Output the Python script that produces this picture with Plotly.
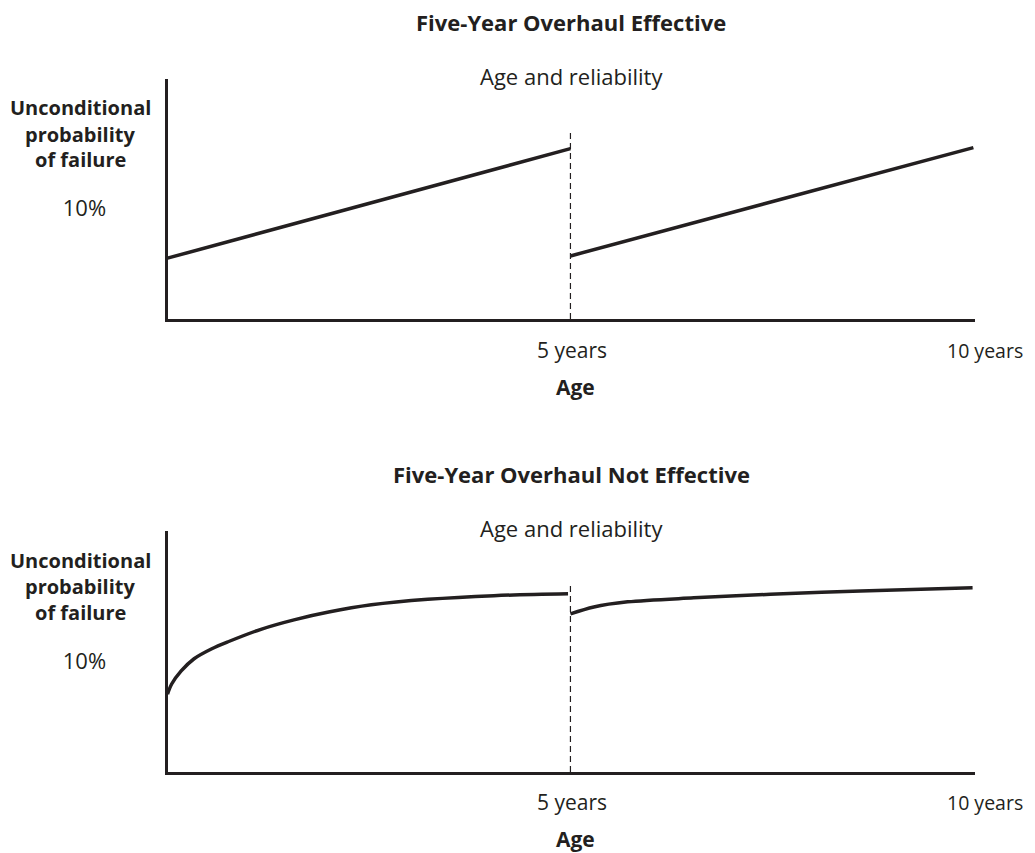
import plotly.graph_objects as go

# ---------------- data ----------------
panel_titles = ["Five-Year Overhaul Effective", "Five-Year Overhaul Not Effective"]
panel_subtitle = "Age and reliability"
y_label_lines = ["Unconditional", "probability", "of failure"]
x_tick_vals = [5, 10]
x_tick_text = ["5 years", "10 years"]
y_tick_vals = [10]
y_tick_text = ["10%"]
x_axis_title = "Age"
overhaul_age = 5
dashed_top = 16.9

# Top panel: overhaul effective (straight rising lines)
eff_x1 = [0, 5]
eff_y1 = [5.5, 15.4]
eff_x2 = [5, 10]
eff_y2 = [5.7, 15.5]

# Bottom panel: overhaul not effective (curves)
ne_x1 = [0.0, 0.05, 0.17, 0.33, 0.55, 0.76, 1.16, 1.57, 2.0, 2.53, 3.23, 4.05, 4.97]
ne_y1 = [7.0, 7.9, 9.1, 10.2, 11.1, 11.75, 12.85, 13.7, 14.4, 15.05, 15.55, 15.88, 16.04]
ne_x2 = [5.0, 5.29, 5.71, 6.53, 7.48, 8.6, 9.99]
ne_y2 = [14.23, 14.86, 15.32, 15.68, 16.0, 16.3, 16.58]

# ---------------- layout helpers ----------------
OFF = 8               # page body margin
W, H = 1035 - OFF, 853 - OFF
INK = "#231f20"
FONT = "Open Sans"

def px_x(p):
    return (p - OFF) / W

def px_y(p):
    return 1 - (p - OFF) / H

x_dom = [px_x(167.5), px_x(975)]
top_dom = [px_y(319), px_y(79)]
bot_dom = [px_y(772), px_y(531)]
x_range = [0, 10.02]
y_range = [0, 21.7]

fig = go.Figure()

line_style = dict(color=INK, width=3.5)
curve_style = dict(color=INK, width=3.5, shape="spline", smoothing=0.9)
dash_style = dict(color=INK, width=1.2, dash="6px,4px")

# top panel traces
fig.add_trace(go.Scatter(x=eff_x1, y=eff_y1, mode="lines", line=line_style, xaxis="x", yaxis="y"))
fig.add_trace(go.Scatter(x=eff_x2, y=eff_y2, mode="lines", line=line_style, xaxis="x", yaxis="y"))
fig.add_trace(go.Scatter(x=[overhaul_age, overhaul_age], y=[0, dashed_top], mode="lines",
                         line=dash_style, xaxis="x", yaxis="y"))

# bottom panel traces
fig.add_trace(go.Scatter(x=ne_x1, y=ne_y1, mode="lines", line=curve_style, xaxis="x2", yaxis="y2"))
fig.add_trace(go.Scatter(x=ne_x2, y=ne_y2, mode="lines", line=curve_style, xaxis="x2", yaxis="y2"))
fig.add_trace(go.Scatter(x=[overhaul_age, overhaul_age], y=[0, dashed_top], mode="lines",
                         line=dash_style, xaxis="x2", yaxis="y2"))

xaxis_common = dict(range=x_range, domain=x_dom, showline=True, linewidth=3, linecolor=INK,
                    showgrid=False, zeroline=False, showticklabels=False, ticks="", fixedrange=True)
yaxis_common = dict(range=y_range, showline=True, linewidth=3, linecolor=INK, showgrid=False,
                    zeroline=False, tickvals=y_tick_vals, ticktext=y_tick_text, ticks="",
                    ticklabelstandoff=54, tickfont=dict(family=FONT, size=22, color=INK), fixedrange=True)

fig.update_layout(
    width=W, height=H,
    margin=dict(l=0, r=0, t=0, b=0),
    paper_bgcolor="white", plot_bgcolor="white",
    showlegend=False,
    xaxis=dict(**xaxis_common, anchor="y"),
    yaxis=dict(**yaxis_common, domain=top_dom, anchor="x"),
    xaxis2=dict(**xaxis_common, anchor="y2"),
    yaxis2=dict(**yaxis_common, domain=bot_dom, anchor="x2"),
    font=dict(family=FONT, color=INK),
)

annotations = []
x_center_px = 571
for i, off in enumerate([0, 452]):
    annotations.append(dict(text="<b>%s</b>" % panel_titles[i], x=px_x(x_center_px), y=px_y(22 + off),
                            xref="paper", yref="paper", showarrow=False, xanchor="center", yanchor="middle",
                            font=dict(family=FONT, size=22, color=INK)))
    annotations.append(dict(text=panel_subtitle, x=px_x(x_center_px), y=px_y(76 + off),
                            xref="paper", yref="paper", showarrow=False, xanchor="center", yanchor="middle",
                            font=dict(family=FONT, size=22, color=INK)))
    for j, t in enumerate(y_label_lines):
        annotations.append(dict(text="<b>%s</b>" % t, x=px_x(80), y=px_y(108 + 26 * j + off),
                                xref="paper", yref="paper", showarrow=False, xanchor="center", yanchor="middle",
                                font=dict(family=FONT, size=20, color=INK)))
    xref = "x" if i == 0 else "x2"
    for v, t in zip(x_tick_vals, x_tick_text):
        last = (v == x_tick_vals[-1])
        annotations.append(dict(text=t, x=v, y=px_y(350 + off), xref=xref, yref="paper",
                                xshift=-28 if last else 2,
                                showarrow=False, xanchor="left" if last else "center", yanchor="middle",
                                font=dict(family=FONT, size=19.5 if last else 21, color=INK)))
    annotations.append(dict(text="<b>%s</b>" % x_axis_title, x=px_x(575), y=px_y(387 + off),
                            xref="paper", yref="paper", showarrow=False, xanchor="center", yanchor="middle",
                            font=dict(family=FONT, size=21, color=INK)))

fig.update_layout(annotations=annotations)

fig.write_html("out.html")
